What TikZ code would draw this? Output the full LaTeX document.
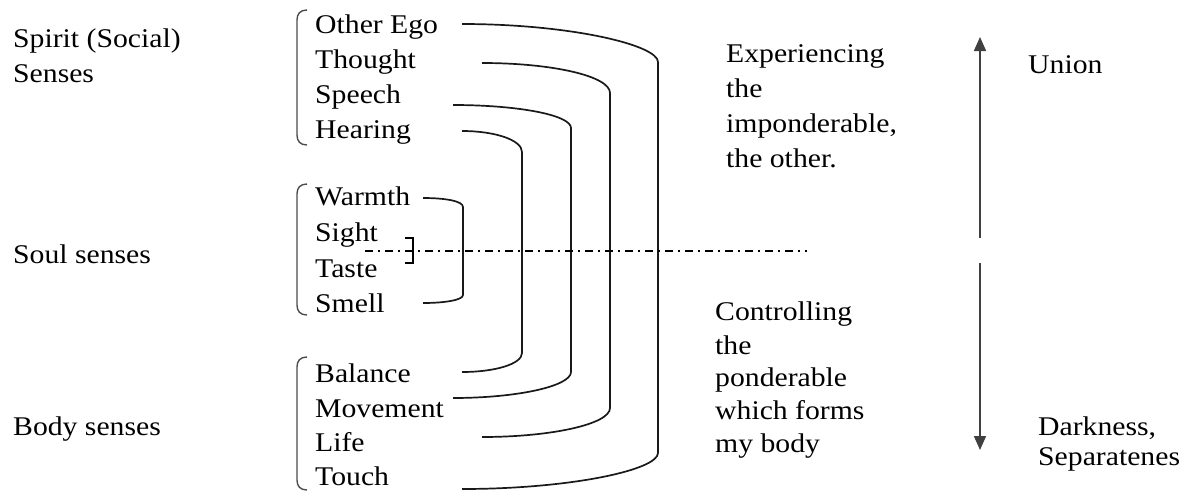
\documentclass[tikz,border=0pt]{standalone}
\usepackage{fontspec}
\setmainfont{Liberation Serif}[FakeStretch=1.1]
\usetikzlibrary{arrows.meta}
\begin{document}
\begin{tikzpicture}[x=1pt,y=-1pt,
  lbl/.style={anchor=base west,inner sep=0pt,font=\fontsize{27}{32}\selectfont},
  conn/.style={line width=1.7pt,black!90},
  paren/.style={line width=1.4pt,black!70},
  dashdotline/.style={line width=1.5pt,dash pattern=on 8pt off 5pt on 2pt off 5pt},
  vecarrow/.style={line width=1.7pt,black!75,-{Triangle[width=12pt,length=14pt]}}]
\useasboundingbox (0,0) rectangle (1197,493);
% left labels
\node[lbl] (spirit) at (13,47) {Spirit (Social)};
\node[lbl] (senses) at (13,82) {Senses};
\node[lbl] (soul) at (13,263) {Soul senses};
\node[lbl] (body) at (13,435) {Body senses};
% sense names
\node[lbl] (oe) at (315,33) {Other Ego};
\node[lbl] (th) at (315,68) {Thought};
\node[lbl] (sp) at (315,103) {Speech};
\node[lbl] (he) at (315,138) {Hearing};
\node[lbl] (wa) at (315,205) {Warmth};
\node[lbl] (si) at (315,241) {Sight};
\node[lbl] (ta) at (315,277) {Taste};
\node[lbl] (sm) at (315,312) {Smell};
\node[lbl] (ba) at (315,382) {Balance};
\node[lbl] (mo) at (315,417) {Movement};
\node[lbl] (li) at (315,451) {Life};
\node[lbl] (to) at (315,485) {Touch};
% right texts
\node[lbl] (e1) at (726,62) {Experiencing};
\node[lbl] (e2) at (726,97) {the};
\node[lbl] (e3) at (726,132) {imponderable,};
\node[lbl] (e4) at (726,167) {the other.};
\node[lbl] (c1) at (715,320) {Controlling};
\node[lbl] (c2) at (715,354) {the};
\node[lbl] (c3) at (715,386) {ponderable};
\node[lbl] (c4) at (715,419) {which forms};
\node[lbl] (c5) at (715,452) {my body};
\node[lbl] (union) at (1028,73) {Union};
\node[lbl] (dark) at (1038,435) {Darkness,};
\node[lbl] (sep) at (1038,465) {Separatenes};
% left parentheses
\foreach \ya/\yb in {10/145, 184/315, 357/490}{
  \draw[paren] (307,\ya) .. controls (300,\ya) and (297,\ya+4) .. (297,\ya+10)
    -- (297,\yb-10) .. controls (297,\yb-4) and (300,\yb) .. (307,\yb);
}
% connector end points
\coordinate (oeR) at (462,24);  \coordinate (toR) at (462,489);
\coordinate (thR) at (482,63);  \coordinate (liR) at (482,437);
\coordinate (spR) at (453,105); \coordinate (moR) at (453,398);
\coordinate (heR) at (462,131); \coordinate (baR) at (462,372);
\coordinate (waR) at (423,198); \coordinate (smR) at (423,303);
% Other Ego -- Touch
\draw[conn] (oeR) .. controls (570,24) and (658,45) .. (658,62) -- (658,453)
  .. controls (658,470) and (570,489) .. (toR);
% Thought -- Life
\draw[conn] (thR) .. controls (552,63) and (610,76) .. (610,93) -- (610,408)
  .. controls (610,424) and (552,437) .. (liR);
% Speech -- Movement
\draw[conn] (spR) .. controls (518,105) and (571,115) .. (571,128) -- (571,372)
  .. controls (571,386) and (518,398) .. (moR);
% Hearing -- Balance
\draw[conn] (heR) .. controls (495,131) and (522,140) .. (522,152) -- (522,353)
  .. controls (522,364) and (495,372) .. (baR);
% Warmth -- Smell
\draw[conn] (waR) .. controls (445,198) and (463,201) .. (463,207) -- (463,295)
  .. controls (463,300) and (445,303) .. (smR);
% small bracket Sight/Taste
\coordinate (sbT) at (405,238); \coordinate (sbB) at (405,263);
\draw[line width=1.4pt] (sbT) -- (413,238) -- (413,263) -- (sbB);
% dash-dot line
\coordinate (ddL) at (365,251); \coordinate (ddR) at (807,251);
\draw[dashdotline] (ddL) -- (ddR);
% vertical arrows
\coordinate (upS) at (980,238); \coordinate (upT) at (980,37);
\coordinate (dnS) at (980,263); \coordinate (dnT) at (980,450);
\draw[vecarrow] (upS) -- (upT);
\draw[vecarrow] (dnS) -- (dnT);
\end{tikzpicture}
\end{document}
